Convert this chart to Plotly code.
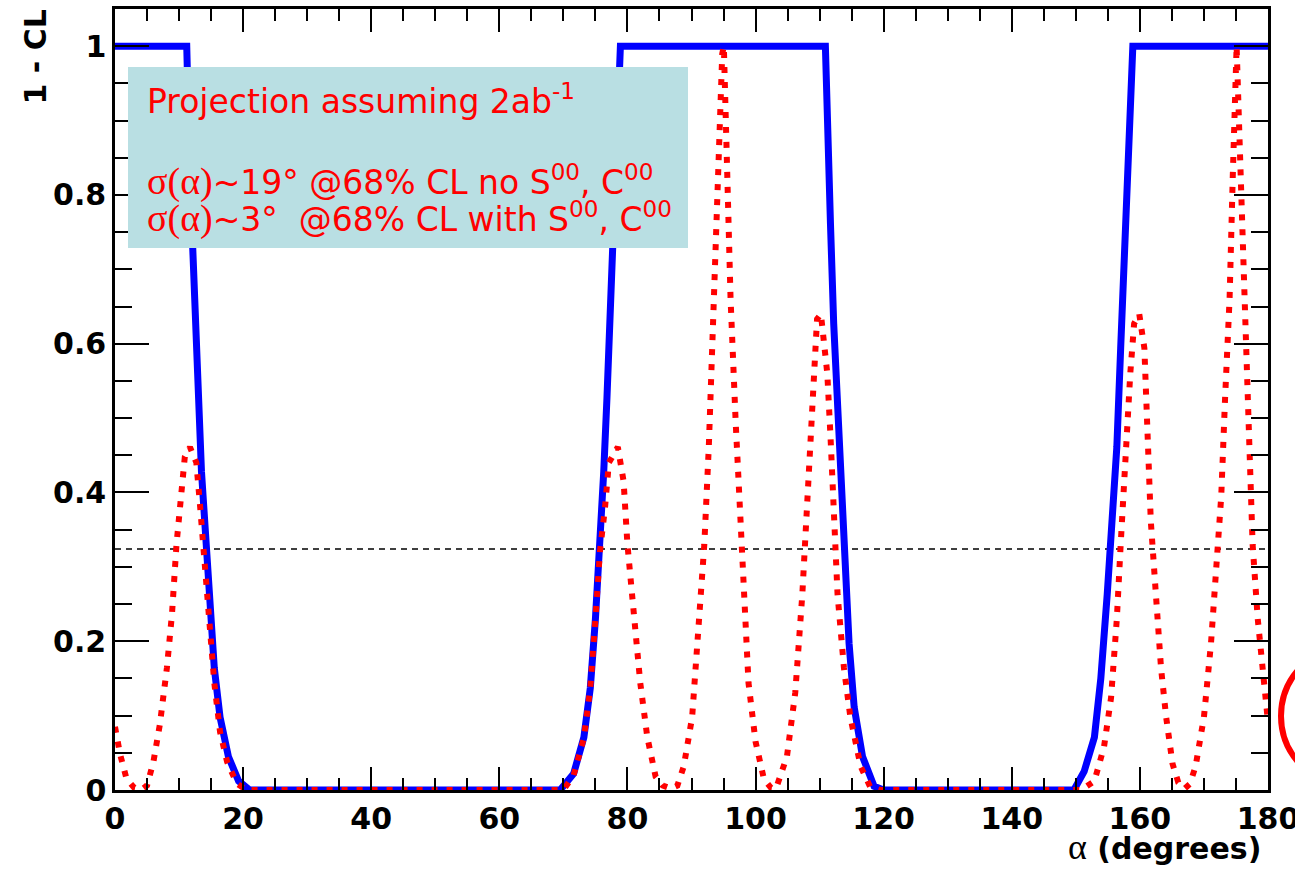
import plotly.graph_objects as go

# ---- data ----
alpha_blue = [0, 11.2, 11.7, 12.2, 12.9, 13.5, 14.2, 14.8, 15.5, 16.4, 17.7, 19.3, 21.0,
              69.5, 71.6, 73.2, 74.2, 75.0, 75.7, 76.3, 76.8, 77.3, 77.8, 78.4, 78.9,
              110.9, 111.2, 111.7, 112.2, 112.9, 113.6, 114.1, 114.6, 115.4, 116.7, 118.5, 120.0,
              149.7, 151.3, 152.9, 153.9, 154.9, 155.7, 156.4, 157.0, 157.7, 158.2, 158.9, 180]
cl_blue = [1, 1, 0.825, 0.693, 0.56, 0.428, 0.323, 0.23, 0.164, 0.098, 0.045, 0.012, 0,
           0, 0.022, 0.071, 0.137, 0.23, 0.323, 0.428, 0.527, 0.627, 0.726, 0.89, 1.0,
           1.0, 0.89, 0.76, 0.627, 0.494, 0.362, 0.296, 0.197, 0.111, 0.045, 0.005, 0,
           0, 0.025, 0.071, 0.15, 0.263, 0.362, 0.461, 0.594, 0.726, 0.858, 1.0, 1.0]

alpha_red = [0, 0.8, 1.8, 3.0, 4.2, 5.0, 6.0, 7.0, 8.1, 8.9, 9.6, 10.3, 10.9, 11.7, 12.7, 13.3, 13.8,
             14.6, 15.5, 16.4, 17.5, 19.0, 20.5,
             70.0, 71.6, 73.2, 74.2, 75.0, 75.7, 76.5, 77.1, 78.5, 79.4, 80.0, 81.0, 82.0, 83.1, 84.4,
             85.5, 86.8, 87.8, 88.8, 90.1, 90.9, 92.0, 92.7, 93.2, 93.8, 94.3, 94.8, 95.05, 95.6, 96.1,
             96.9, 97.6, 98.2, 98.9, 100.0, 101.3, 102.4, 103.2, 104.9, 106.2, 107.3, 108.1, 108.9,
             109.6, 110.2, 111.2, 111.7, 112.2, 112.8, 113.8, 114.8, 116.4, 117.9, 119.5,
             150.8, 152.9, 154.4, 155.5, 156.4, 157.0, 157.8, 158.5, 159.1, 159.9, 160.7, 161.2,
             161.7, 162.5, 163.3, 164.1, 165.1, 166.0, 167.0, 167.8, 168.7, 170.0, 171.1, 171.9,
             172.7, 173.3, 174.0, 174.5, 175.0, 175.1, 175.5, 176.0, 176.6, 177.1, 177.6, 178.4,
             179.2, 180]
cl_red = [0.085, 0.048, 0.015, 0.003, 0.001, 0.006, 0.038, 0.088, 0.164, 0.237, 0.33, 0.40, 0.448,
          0.461, 0.44, 0.38, 0.32, 0.23, 0.144, 0.078, 0.038, 0.009, 0,
          0, 0.02, 0.07, 0.137, 0.23, 0.32, 0.38, 0.44, 0.461, 0.415, 0.33, 0.23, 0.144, 0.071, 0.018,
          0.006, 0.002, 0.006, 0.032, 0.098, 0.197, 0.33, 0.461, 0.594, 0.726, 0.858, 0.99, 1.0, 0.825,
          0.66, 0.494, 0.362, 0.243, 0.144, 0.065, 0.015, 0.003, 0.002, 0.045, 0.131, 0.263, 0.395,
          0.527, 0.633, 0.64, 0.56, 0.475, 0.362, 0.263, 0.164, 0.098, 0.032, 0.004, 0,
          0, 0.012, 0.058, 0.124, 0.23, 0.33, 0.461, 0.56, 0.627, 0.64, 0.594, 0.494,
          0.362, 0.263, 0.164, 0.098, 0.035, 0.01, 0.002, 0.008, 0.032, 0.098, 0.197, 0.296,
          0.395, 0.527, 0.66, 0.825, 0.993, 1.0, 0.89, 0.726, 0.594, 0.461, 0.33, 0.23,
          0.15, 0.091]

cl_x = [0, 180]
cl_level = [0.324, 0.324]

x_ticks = [0, 20, 40, 60, 80, 100, 120, 140, 160, 180]
y_ticks = [0, 0.2, 0.4, 0.6, 0.8, 1]
y_tick_text = ["0", "0.2", "0.4", "0.6", "0.8", "1"]

SERIF = "<span style=\"font-family:'Liberation Serif';font-size:38px\">σ(α)</span>"
box_lines = [
    "Projection assuming 2ab<sup>-1</sup>",
    SERIF + "~19° @68% CL no S<sup>00</sup>, C<sup>00</sup>",
    SERIF + "~3°  @68% CL with S<sup>00</sup>, C<sup>00</sup>",
]

# ---- layout geometry (pixels) ----
W, H = 1295, 872
L, R, T, B = 115, 27, 9, 82
pw, ph = W - L - R, H - T - B


def px(xp):
    return (xp - L) / pw


def py(yp):
    return (H - B - yp) / ph


fig = go.Figure()
fig.add_trace(go.Scatter(x=cl_x, y=cl_level, mode="lines",
                         line=dict(color="black", width=1.5, dash="6px,5px"), hoverinfo="skip"))
fig.add_trace(go.Scatter(x=alpha_blue, y=cl_blue, mode="lines",
                         line=dict(color="#0000ff", width=7), hoverinfo="skip"))
fig.add_trace(go.Scatter(x=alpha_red, y=cl_red, mode="lines",
                         line=dict(color="#ff0000", width=6, dash="6px,9px"), hoverinfo="skip"))

axis_common = dict(showgrid=False, zeroline=False, showline=True, linecolor="black", linewidth=2.5,
                   mirror="ticks", ticks="inside", tickcolor="black", tickwidth=2,
                   ticklabeloverflow="allow", automargin=False,
                   tickfont=dict(family="DejaVu Sans", size=30, color="black", weight="bold"))

fig.update_xaxes(range=[0, 180], tickvals=x_ticks, ticktext=[str(v) for v in x_ticks], ticklen=23,
                 minor=dict(dtick=5, tick0=0, ticklen=12, tickwidth=2, ticks="inside", tickcolor="black"),
                 **axis_common)
fig.update_yaxes(range=[0, 1.05], tickvals=y_ticks, ticktext=y_tick_text,
                 ticklen=34,
                 minor=dict(dtick=0.05, tick0=0, ticklen=17, tickwidth=2, ticks="inside", tickcolor="black"),
                 **axis_common)

shapes = [
    dict(type="rect", xref="paper", yref="paper", x0=px(128), x1=px(688), y0=py(248), y1=py(67),
         fillcolor="#b9dfe3", line=dict(width=0), layer="above"),
    dict(type="circle", xref="paper", yref="paper", x0=px(1281), x1=px(1421), y0=py(786), y1=py(646),
         line=dict(color="#ff0000", width=6), fillcolor="rgba(0,0,0,0)", layer="above"),
]

annotations = []
for txt, yc in zip(box_lines, [99, 181, 218]):
    annotations.append(dict(text=txt, xref="paper", yref="paper", x=px(145), y=py(yc),
                            xanchor="left", yanchor="middle", showarrow=False,
                            font=dict(family="DejaVu Sans", size=33, color="#ff0000")))
annotations.append(dict(text="<span style=\"font-family:'Liberation Serif';font-weight:normal;font-size:36px\">α</span> (degrees)",
                        xref="paper", yref="paper", x=px(1263), y=py(847), xanchor="right", yanchor="middle",
                        showarrow=False,
                        font=dict(family="DejaVu Sans", size=30, color="black", weight="bold")))
annotations.append(dict(text="1 - CL", xref="paper", yref="paper", x=px(35), y=py(8), xanchor="center",
                        yanchor="top", textangle=-90, showarrow=False,
                        font=dict(family="DejaVu Sans", size=30, color="black", weight="bold")))

fig.update_layout(width=W, height=H, margin=dict(l=L, r=R, t=T, b=B, pad=0, autoexpand=False),
                  paper_bgcolor="white", plot_bgcolor="white", showlegend=False,
                  shapes=shapes, annotations=annotations)

fig.write_html("out.html")
